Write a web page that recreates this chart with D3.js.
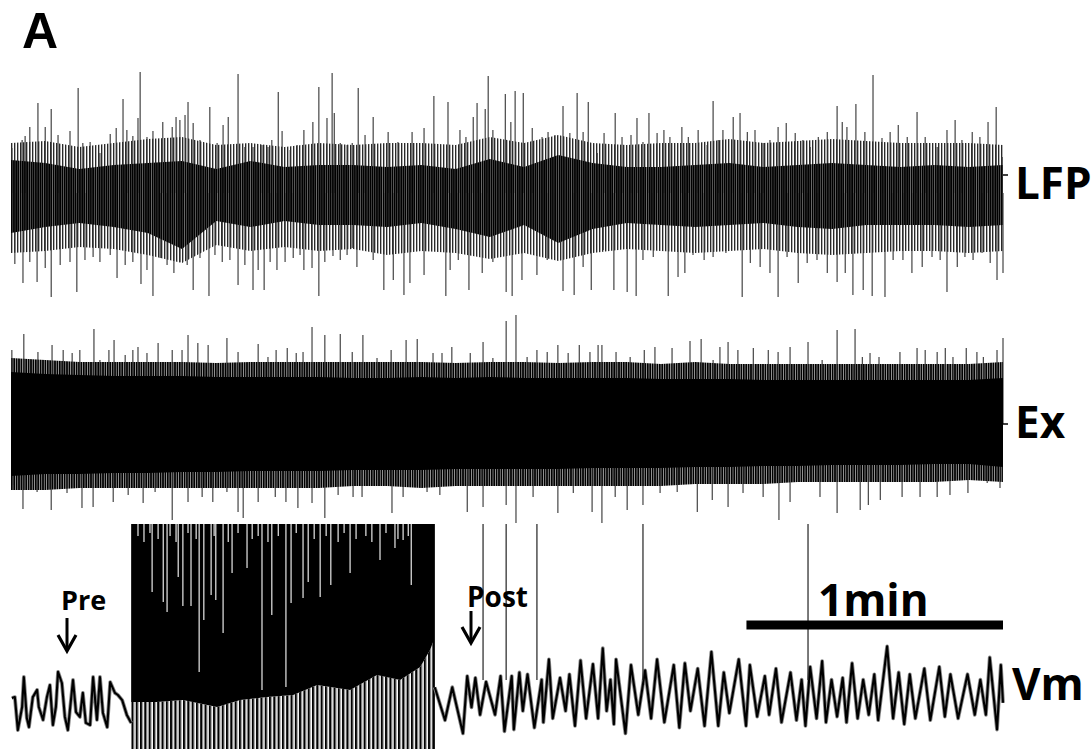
<!DOCTYPE html>
<html>
<head>
<meta charset="utf-8">
<script src="https://cdn.jsdelivr.net/npm/d3@7"></script>
<style>
  html, body { margin: 0; padding: 0; background: #fff; }
  svg { display: block; }
  text { font-family: "Open Sans", sans-serif; font-weight: 700; fill: #000; }
</style>
</head>
<body>
<svg id="chart" width="1091" height="749"></svg>
<script>

// time grid (s) used by the envelope arrays
var gridT = [0, 8, 16, 24, 32, 40, 48, 56, 64, 72, 80, 88, 96, 104, 112, 120, 128, 136, 144, 152, 160, 168, 176, 184, 192, 200, 208, 216, 224, 232];

// LFP (uV): dense core and outer envelope
var lfpCoreHi = [33, 30, 24, 28, 30, 32, 24, 32, 26, 28, 28, 26, 28, 24, 34, 26, 38, 30, 26, 26, 28, 30, 26, 28, 30, 28, 26, 28, 26, 28];
var lfpCoreLo = [-40, -34, -30, -34, -40, -56, -28, -34, -28, -32, -32, -34, -30, -36, -44, -32, -50, -36, -30, -32, -34, -32, -30, -34, -36, -32, -32, -32, -34, -32];
var lfpEnvHi = [50, 52, 46, 50, 54, 56, 48, 50, 46, 50, 48, 50, 50, 48, 56, 50, 58, 50, 48, 50, 50, 54, 50, 52, 54, 52, 50, 50, 50, 48];
var lfpEnvLo = [-60, -58, -54, -56, -62, -70, -52, -58, -54, -58, -56, -62, -58, -60, -66, -60, -68, -60, -56, -58, -60, -58, -56, -60, -62, -60, -58, -58, -60, -58];

// LFP single deflections [t, value]
var lfpUp = [[0.2,45],[2.6,53],[3.3,57],[4.4,66],[6.3,90],[8.0,66],[9.4,84],[11.0,58],[13.8,62],[15.7,105],
  [16.8,50],[18.5,51],[20.8,40],[23.2,59],[24.6,65],[26.2,94],[27.1,63],[28.5,57],[29.7,75],[30.2,121],
  [31.8,56],[33.2,62],[35.5,71],[37.7,66],[38.6,76],[39.5,73],[40.7,78],[41.4,91],[42.6,70],[44.2,53],
  [46.5,86],[48.2,50],[49.6,68],[50.8,76],[53.1,119],[54.7,46],[56.6,46],[58.7,48],[60.1,46],[61.0,53],
  [62.5,101],[63.4,62],[65.3,43],[66.9,48],[68.5,63],[70.6,71],[72.0,106],[73.9,75],[75.1,120],[75.6,80],
  [77.0,50],[78.6,48],[79.8,50],[81.2,105],[82.8,58],[84.7,76],[88.2,61],[90.5,51],[93.8,61],[96.6,65],
  [98.9,97],[102.2,91],[105.0,63],[106.4,56],[108.1,76],[109.0,90],[110.9,84],[111.6,117],[112.7,63],[115.6,99],
  [116.9,71],[117.9,102],[119.8,100],[121.9,65],[124.2,56],[125.6,61],[127.2,58],[129.1,87],[130.7,60],[132.4,100],
  [133.8,61],[135.0,91],[137.1,40],[138.7,60],[141.3,80],[142.9,56],[145.0,58],[146.4,75],[147.8,51],[149.2,80],
  [151.1,60],[152.7,63],[154.1,56],[156.9,66],[158.4,56],[160.7,63],[162.8,48],[164.2,92],[165.4,53],[166.5,63],
  [168.9,76],[170.5,80],[172.2,61],[174.0,63],[175.9,50],[177.5,53],[179.4,66],[181.3,70],[183.4,60],[185.2,53],
  [186.9,46],[188.8,56],[190.9,61],[193.2,87],[194.4,71],[195.5,66],[197.6,89],[199.7,61],[201.6,118],[203.7,55],
  [205.6,61],[207.5,68],[209.6,56],[211.9,81],[213.8,56],[216.6,46],[218.9,63],[220.8,73],[222.4,53],[224.8,61],
  [226.6,56],[228.5,71],[230.4,86],[231.8,36]];
var lfpDown = [[0.9,-71],[2.8,-90],[4.4,-69],[6.1,-89],[8.0,-75],[9.4,-104],[11.5,-72],[13.8,-69],[15.4,-99],[17.3,-67],
  [19.2,-64],[20.8,-69],[23.2,-62],[24.8,-85],[26.7,-72],[28.5,-69],[30.4,-91],[31.8,-77],[33.2,-103],[34.9,-65],
  [36.5,-72],[38.1,-80],[39.5,-69],[41.2,-72],[42.6,-97],[44.2,-65],[46.3,-103],[47.7,-62],[49.4,-69],[51.2,-67],
  [53.1,-92],[54.7,-72],[56.6,-97],[57.8,-77],[59.2,-97],[60.6,-69],[62.2,-77],[64.1,-69],[66.0,-65],[67.6,-62],
  [68.5,-77],[70.4,-75],[72.0,-103],[73.4,-69],[75.3,-63],[77.0,-67],[78.6,-62],[79.8,-55],[80.9,-74],[84.7,-67],
  [87.2,-97],[89.4,-87],[91.9,-102],[93.3,-90],[96.6,-82],[101.7,-103],[102.7,-77],[104.6,-67],[107.1,-97],[110.2,-80],
  [112.7,-69],[115.8,-99],[117.2,-103],[119.5,-87],[123.0,-82],[125.4,-67],[129.1,-98],[131.7,-102],[133.8,-74],[135.7,-97],
  [138.5,-57],[141.0,-97],[144.1,-99],[146.2,-103],[147.8,-67],[150.2,-64],[153.7,-103],[156.0,-84],[157.6,-80],[159.5,-62],
  [162.1,-67],[164.2,-64],[167.2,-60],[171.0,-104],[172.9,-70],[175.2,-74],[177.5,-80],[179.4,-104],[181.5,-64],[184.1,-90],
  [186.2,-70],[188.5,-67],[190.9,-80],[193.2,-89],[195.1,-80],[196.9,-102],[199.3,-97],[201.4,-103],[204.4,-104],[206.3,-67],
  [208.6,-67],[210.7,-80],[213.1,-74],[215.4,-64],[217.3,-67],[218.9,-99],[221.3,-74],[223.1,-64],[225.0,-67],[227.1,-60],
  [229.0,-70],[230.6,-87],[232.0,-80]];

// Ex (uV): solid core and spiky fringe
var exCoreHi = [52, 50, 49, 48, 48, 48, 47, 47, 47, 47, 46, 46, 47, 46, 47, 46, 46, 46, 46, 45, 45, 45, 44, 44, 44, 44, 44, 44, 44, 46];
var exCoreLo = [-52, -50, -50, -49, -49, -48, -48, -47, -47, -47, -46, -46, -46, -45, -45, -45, -45, -44, -44, -44, -43, -43, -42, -42, -41, -41, -41, -40, -40, -43];
var exEnvHi = [66, 64, 62, 62, 62, 62, 61, 62, 62, 62, 62, 62, 62, 61, 62, 62, 61, 62, 62, 60, 62, 60, 60, 60, 60, 60, 60, 60, 60, 62];
var exEnvLo = [-66, -66, -64, -64, -64, -64, -64, -64, -64, -64, -62, -62, -64, -62, -62, -62, -62, -62, -62, -62, -60, -60, -60, -58, -58, -58, -58, -58, -56, -58];

var exUp = [[0.2,74],[3.0,90],[6.3,72],[9.6,79],[12.2,74],[14.3,71],[16.1,74],[19.4,95],[20.8,64],[22.9,74],
  [24.1,84],[26.7,69],[28.5,74],[29.7,77],[31.8,71],[34.4,81],[37.7,74],[40.0,74],[41.4,89],[43.7,81],
  [46.1,79],[50.5,86],[53.1,72],[57.8,80],[60.1,67],[62.0,74],[64.6,76],[66.7,71],[68.3,72],[70.4,97],
  [73.4,89],[77.0,90],[79.8,72],[82.3,89],[85.6,66],[88.9,74],[92.4,84],[95.0,85],[98.7,71],[100.8,71],
  [103.1,77],[107.4,71],[110.4,82],[112.7,66],[115.8,103],[118.1,109],[120.7,67],[123.0,74],[125.4,72],[127.9,79],
  [130.3,71],[132.9,79],[135.4,72],[137.3,79],[138.2,79],[141.5,72],[144.8,67],[148.1,74],[150.6,77],[154.6,76],
  [158.8,83],[161.4,85],[164.2,64],[165.8,77],[167.7,82],[170.0,74],[173.6,76],[177.1,74],[179.4,72],[182.2,77],
  [186.4,82],[189.7,64],[193.2,94],[197.4,95],[199.1,67],[200.9,71],[203.0,67],[207.9,72],[211.9,76],[213.8,74],
  [216.6,72],[218.5,76],[220.3,67],[223.4,76],[225.9,72],[227.4,67],[230.6,74],[232.0,86]];
var exDown = [[0.5,-61],[2.8,-85],[6.1,-68],[9.4,-86],[13.1,-69],[16.6,-84],[19.2,-83],[23.9,-78],[27.4,-71],[30.9,-79],
  [33.7,-68],[37.7,-96],[41.4,-78],[44.7,-73],[47.2,-78],[50.5,-68],[53.1,-88],[54.3,-94],[57.8,-78],[61.8,-73],
  [64.3,-78],[67.1,-84],[70.4,-79],[73.4,-94],[76.5,-71],[80.0,-73],[82.1,-73],[89.1,-89],[91.7,-73],[97.3,-68],
  [100.3,-71],[106.7,-88],[110.4,-83],[115.8,-81],[118.1,-99],[122.1,-73],[127.9,-89],[131.5,-69],[135.9,-88],[138.2,-99],
  [141.3,-73],[144.1,-86],[147.8,-81],[151.8,-69],[155.8,-68],[160.5,-88],[164.0,-76],[167.7,-83],[171.2,-69],[175.9,-73],
  [179.6,-96],[182.2,-78],[189.2,-73],[193.2,-89],[198.6,-86],[200.5,-81],[203.3,-76],[208.4,-73],[212.6,-73],[216.6,-73],
  [219.6,-71],[223.8,-69],[228.3,-59],[231.3,-64]];

// Vm (mV): before, during and after the burst
var vmPre = [[0.2,-58.0],[0.9,-57.7],[1.6,-68.7],[2.6,-61.0],[3.0,-51.0],[3.7,-64.7],[4.2,-67.7],[5.1,-57.7],[6.1,-55.3],[6.5,-61.0],
  [7.5,-65.3],[8.4,-57.7],[9.1,-53.7],[9.8,-67.0],[10.5,-61.0],[11.0,-49.3],[11.9,-53.0],[12.6,-64.3],[13.3,-68.7],[14.5,-52.0],
  [15.2,-62.7],[16.1,-64.3],[16.8,-56.3],[17.5,-66.3],[18.5,-67.0],[19.2,-51.0],[20.1,-65.3],[20.8,-51.0],[21.5,-63.0],[22.5,-67.7],
  [23.2,-52.7],[24.3,-56.3],[25.0,-57.0],[26.0,-58.7],[27.1,-63.7],[28.1,-66.3]];
var vmPost = [[99.1,-54.4],[101.5,-65.4],[103.2,-54.4],[105.7,-69.8],[106.7,-50.7],[107.7,-61.1],[108.6,-51.3],[109.7,-63.6],[111.1,-52.6],[113.2,-63.6],
  [114.5,-50.7],[115.4,-69.1],[117.1,-50.7],[117.6,-68.5],[118.9,-49.5],[119.7,-62.3],[120.8,-50.1],[122.4,-67.9],[124.1,-51.9],[124.5,-66.1],
  [125.8,-45.1],[126.7,-64.8],[128.4,-51.3],[129.7,-62.3],[130.6,-50.1],[131.9,-67.3],[133.2,-45.5],[134.5,-64.8],[136.1,-46.7],[137.3,-64.8],
  [138.4,-41.4],[139.3,-62.3],[140.2,-51.9],[141.0,-66.7],[141.5,-45.1],[143.7,-69.8],[145.0,-47.0],[146.7,-63.6],[148.3,-48.8],[149.7,-64.8],
  [151.1,-45.1],[152.8,-66.1],[155.0,-47.0],[156.3,-67.9],[157.6,-46.4],[158.9,-62.3],[160.6,-48.2],[162.2,-67.3],[163.8,-42.6],[165.4,-67.3],
  [166.7,-49.5],[168.0,-63.0],[170.2,-45.1],[171.9,-67.3],[172.8,-47.0],[174.5,-64.2],[176.3,-50.7],[177.3,-63.6],[178.9,-48.2],[180.2,-66.1],
  [182.3,-49.5],[183.7,-65.4],[184.9,-51.9],[185.8,-67.3],[186.9,-47.6],[188.4,-64.8],[189.7,-45.7],[190.6,-66.1],[191.9,-51.9],[193.2,-64.2],
  [194.5,-51.3],[195.4,-66.1],[196.7,-46.4],[198.0,-64.8],[199.3,-51.9],[200.6,-63.6],[201.9,-50.1],[202.8,-65.4],[204.9,-40.8],[206.3,-64.8],
  [207.6,-49.5],[208.9,-66.7],[210.2,-50.1],[211.5,-64.8],[213.6,-48.2],[215.0,-65.4],[217.1,-47.6],[218.4,-64.2],[219.7,-50.1],[221.5,-64.8],
  [223.7,-50.1],[225.4,-63.6],[226.7,-51.9],[228.0,-63.6],[228.9,-44.5],[230.6,-68.5],[231.5,-47.0],[232.0,-59.6]];
// lower edge of the solid burst, and the thin gaps reaching down from the top
var burstFloor = [[28.1,-59.3],[34.1,-59.3],[40.2,-58.7],[48.2,-61.0],[53.6,-58.7],[59.9,-57.7],[66.0,-57.0],[71.6,-53.7],[79.3,-55.3],[85.6,-50.3],[91.0,-52.0],[95.7,-47.7],[98.0,-42.0],[98.9,-38.7]];
var burstGaps = [[33.0,-22.7],[35.6,-26.0],[36.5,-29.3],[39.1,-17.7],[40.2,-27.3],[42.1,-27.3],[44.0,-49.3],[45.1,-32.0],[46.8,-23.7],[47.9,-25.3],
  [49.6,-36.3],[51.7,-16.3],[55.2,-14.7],[58.7,-55.3],[61.0,-30.3],[64.3,-54.3],[65.5,-26.3],[68.3,-24.7],[69.5,-19.3],[72.3,-24.3],
  [74.8,-20.3],[79.3,-16.3],[86.3,-12.0],[89.8,-8.0],[91.7,-5.3],[93.6,-20.3],
  [29.7,-4],[31.1,-6],[32.5,-3],[34.4,-5],[37.2,-4],[38.6,-6],[41.4,-3],[43.3,-5],[47.5,-4],[50.8,-6],[53.1,-3],[56.4,-5],[57.8,-4],
  [60.1,-6],[62.5,-4],[66.7,-3],[70.9,-5],[73.7,-4],[76.5,-6],[77.9,-3],[80.7,-5],[83.0,-4],[84.4,-6],[87.7,-3],[90.5,-5],[92.9,-4]];
var vmSpikes = [110.4, 115.8, 123.0, 147.8, 186.4];
var burstEnd = 98.9;

var svg = d3.select('#chart');

var x = d3.scaleLinear().domain([0, 232]).range([11, 1003]);
var yLfp = d3.scaleLinear().domain([-130, 130]).range([323, 63]);
var yEx = d3.scaleLinear().domain([-130, 130]).range([554, 294]);
var yVm = d3.scaleLinear().domain([-75, 0]).range([749, 524]);

var defs = svg.append('defs');

function stripes(id, period, parts) {
    var p = defs.append('pattern')
        .attr('id', id)
        .attr('patternUnits', 'userSpaceOnUse')
        .attr('x', 11)
        .attr('width', period)
        .attr('height', 10);
    parts.forEach(function(s) {
        p.append('rect').attr('x', s[0]).attr('width', s[1]).attr('height', 10).attr('fill', s[2]);
    });
}
stripes('lfpHatch', 3, [[0, 1.2, '#2a2a2a'], [1.2, 0.6, '#999']]);
stripes('lfpCore', 2.2, [[0, 1.7, '#000'], [1.7, 0.5, '#555']]);
stripes('exHatch', 2.4, [[0, 1.7, '#000'], [1.7, 0.4, '#666']]);
stripes('burstHatch', 4.3, [[0, 2, '#000'], [2, 0.9, '#666']]);

function band(y, hi, lo, fill) {
    var rows = gridT.map(function(t, i) { return { t: t, hi: hi[i], lo: lo[i] }; });
    svg.append('path')
        .datum(rows)
        .attr('d', d3.area()
            .x(function(d) { return x(d.t); })
            .y0(function(d) { return y(d.lo); })
            .y1(function(d) { return y(d.hi); }))
        .attr('fill', fill);
}

function spikes(y, data, color) {
    svg.append('g')
        .selectAll('line')
        .data(data)
        .enter()
        .append('line')
            .attr('x1', function(d) { return x(d[0]); })
            .attr('x2', function(d) { return x(d[0]); })
            .attr('y1', y(0))
            .attr('y2', function(d) { return y(d[1]); })
            .attr('stroke', color)
            .attr('stroke-width', 1.1);
}

// LFP
band(yLfp, lfpEnvHi, lfpEnvLo, 'url(#lfpHatch)');
spikes(yLfp, lfpUp, '#333');
spikes(yLfp, lfpDown, '#333');
band(yLfp, lfpCoreHi, lfpCoreLo, 'url(#lfpCore)');

// Ex
band(yEx, exEnvHi, exEnvLo, 'url(#exHatch)');
spikes(yEx, exUp, '#333');
spikes(yEx, exDown, '#333');
band(yEx, exCoreHi, exCoreLo, '#000');

// small baseline marks at the right end
svg.append('line').attr('x1', x(232)).attr('x2', x(232) + 5).attr('y1', yLfp(18)).attr('y2', yLfp(18)).attr('stroke', '#000').attr('stroke-width', 1.5);
svg.append('line').attr('x1', x(232)).attr('x2', x(232) + 5).attr('y1', yEx(0)).attr('y2', yEx(0)).attr('stroke', '#000').attr('stroke-width', 1.5);

// Vm burst: thin spikes below the solid part, solid part, white gaps
svg.append('path')
    .datum(burstFloor)
    .attr('d', d3.area()
        .x(function(d) { return x(d[0]); })
        .y0(yVm(-80))
        .y1(function(d) { return yVm(d[1]); }))
    .attr('fill', 'url(#burstHatch)');

svg.append('path')
    .datum(burstFloor)
    .attr('d', d3.area()
        .x(function(d) { return x(d[0]); })
        .y0(function(d) { return yVm(d[1]); })
        .y1(yVm(0)))
    .attr('fill', '#000');

svg.append('g')
    .selectAll('line')
    .data(burstGaps)
    .enter()
    .append('line')
        .attr('x1', function(d) { return x(d[0]); })
        .attr('x2', function(d) { return x(d[0]); })
        .attr('y1', yVm(0))
        .attr('y2', function(d) { return yVm(d[1]); })
        .attr('stroke', '#fff')
        .attr('stroke-width', 1.1);

svg.append('line')
    .attr('x1', x(burstEnd)).attr('x2', x(burstEnd))
    .attr('y1', yVm(0)).attr('y2', yVm(-80))
    .attr('stroke', '#000').attr('stroke-width', 2);

// Vm traces: a soft grey halo under the black line stands in for the noise
var vmLine = d3.line()
    .x(function(d) { return x(d[0]); })
    .y(function(d) { return yVm(d[1]); });

[vmPre, vmPost].forEach(function(seg) {
    svg.append('path')
        .datum(seg)
        .attr('d', vmLine)
        .attr('fill', 'none')
        .attr('stroke', '#8a8a8a')
        .attr('stroke-width', 3.8)
        .attr('stroke-linejoin', 'round');
    svg.append('path')
        .datum(seg)
        .attr('d', vmLine)
        .attr('fill', 'none')
        .attr('stroke', '#000')
        .attr('stroke-width', 2.1)
        .attr('stroke-linejoin', 'round');
});

svg.append('g')
    .selectAll('line')
    .data(vmSpikes)
    .enter()
    .append('line')
        .attr('x1', function(d) { return x(d); })
        .attr('x2', function(d) { return x(d); })
        .attr('y1', yVm(0))
        .attr('y2', yVm(-52))
        .attr('stroke', '#222')
        .attr('stroke-width', 1.2);

// scale bar
svg.append('line')
    .attr('x1', x(172)).attr('x2', x(232))
    .attr('y1', 625).attr('y2', 625)
    .attr('stroke', '#000').attr('stroke-width', 9);

svg.append('text').attr('x', 818).attr('y', 616).style('font-size', '44px').text('1min');

// arrows
function arrow(ax, y0, y1) {
    svg.append('line').attr('x1', ax).attr('x2', ax).attr('y1', y0).attr('y2', y1 - 2)
        .attr('stroke', '#000').attr('stroke-width', 3);
    svg.append('polyline')
        .attr('points', [[ax - 9, y1 - 16], [ax, y1], [ax + 9, y1 - 16]].join(' '))
        .attr('fill', 'none').attr('stroke', '#000').attr('stroke-width', 3.2);
}
arrow(67, 618, 651);
arrow(471, 611, 643);

svg.append('text').attr('x', 61).attr('y', 610).style('font-size', '27px').text('Pre');
svg.append('text').attr('x', 467).attr('y', 607).style('font-size', '28px').text('Post');

// labels
svg.append('text').attr('x', 22).attr('y', 48)
    .style('font-family', '"Liberation Sans", sans-serif')
    .style('font-size', '50px').text('A');
svg.append('text').attr('x', 1015).attr('y', 199).style('font-size', '44px').text('LFP');
svg.append('text').attr('x', 1015).attr('y', 438).style('font-size', '44px').text('Ex');
svg.append('text').attr('x', 1012).attr('y', 700).style('font-size', '44px').text('Vm');

</script>
</body>
</html>
